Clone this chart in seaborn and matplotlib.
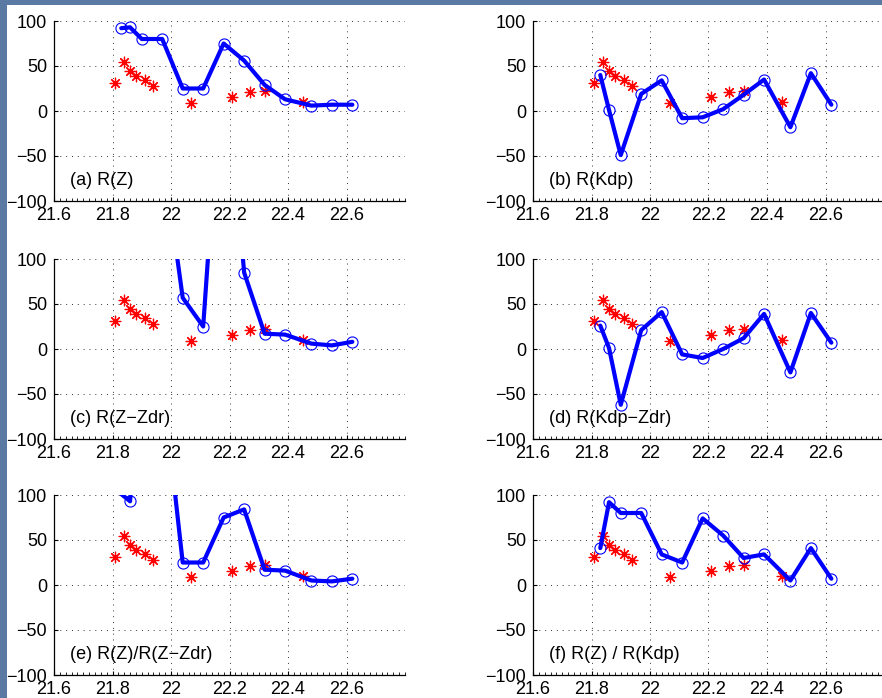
import numpy as np
import matplotlib
matplotlib.use('Agg')
import matplotlib.pyplot as plt
from matplotlib.patches import Rectangle
from matplotlib.ticker import MultipleLocator
import seaborn as sns

# times (hour) of the gauge (blue) estimates
blueTime = [21.83, 21.86, 21.90, 21.97, 22.04, 22.11, 22.18, 22.25, 22.32, 22.39, 22.48, 22.55, 22.62]

# red stars, the same in every panel
redTime = [21.81, 21.84, 21.86, 21.88, 21.91, 21.94, 22.07, 22.21, 22.27, 22.32, 22.45]
redRate = [31, 55, 45, 39, 35, 28, 9, 16, 21, 22, 10]

# blue series per panel (values above 100 run off the top of the axes)
rateZ = [92, 93, 80, 80, 25, 25, 75, 56, 29, 13, 6, 7, 7]
rateKdp = [40, 1, -49, 19, 34, -8, -7, 2, 18, 35, -18, 42, 7]
rateZZdr = [250, 260, 240, 223, 57, 25, 350, 85, 17, 16, 6, 4, 8]
rateKdpZdr = [26, 1, -62, 21, 41, -6, -10, 0, 12, 39, -26, 40, 7]
rateZoverZZdr = [101, 93, 260, 230, 25, 25, 75, 84, 17, 16, 5, 4, 7]
rateZoverKdp = [41, 92, 80, 80, 34, 25, 74, 55, 30, 34, 5, 41, 7]

panelLabels = ['(a) R(Z)', '(b) R(Kdp)', '(c) R(Z\u2212Zdr)',
               '(d) R(Kdp\u2212Zdr)', '(e) R(Z)/R(Z\u2212Zdr)', '(f) R(Z) / R(Kdp)']
panelSeries = [rateZ, rateKdp, rateZZdr, rateKdpZdr, rateZoverZZdr, rateZoverKdp]

xTicks = [21.6, 21.8, 22.0, 22.2, 22.4, 22.6]
xTickLabels = ['21.6', '21.8', '22', '22.2', '22.4', '22.6']
yTicks = [-100, -50, 0, 50, 100]

sns.set_theme(style='white')
plt.rcParams['font.family'] = ['Liberation Sans', 'DejaVu Sans']
plt.rcParams['axes.unicode_minus'] = True
plt.rcParams['text.color'] = 'black'

W, H = 882, 698
fig = plt.figure(figsize=(W / 100, H / 100), dpi=100)
fig.patch.set_facecolor('#5a7aa3')
fig.add_artist(Rectangle((7 / W, 0), 1, 1 - 5 / H, transform=fig.transFigure,
                         facecolor='white', edgecolor='none', zorder=0))

colLeft = [54 / W, 533 / W]
rowTop = [21, 259, 495]
axW = 351 / W
axH = 180 / H

for i, (series, label) in enumerate(zip(panelSeries, panelLabels)):
    row, col = divmod(i, 2)
    ax = fig.add_axes([colLeft[col], 1 - (rowTop[row] + 180) / H, axW, axH])
    ax.set_facecolor('white')

    sns.scatterplot(x=redTime, y=redRate, ax=ax, marker=(8, 2, 0), s=58,
                    color='red', edgecolor='red', linewidth=0.9, zorder=3)

    inside = [(-100 <= v <= 100) for v in series]
    sns.lineplot(x=blueTime, y=series, ax=ax, sort=False, estimator=None,
                 color='blue', lw=3, marker='o', markevery=inside,
                 mfc='none', mec='blue', ms=8, mew=0.8, zorder=4)

    ax.text(21.655, -77, label, fontsize=13, color='black',
            va='center', ha='left', zorder=5)

    ax.set_xlim(21.6, 22.8)
    ax.set_ylim(-100, 100)
    ax.set_xticks(xTicks)
    ax.set_xticklabels(xTickLabels)
    ax.set_yticks(yTicks)
    ax.xaxis.set_minor_locator(MultipleLocator(0.02))
    ax.tick_params(which='both', direction='in', colors='black', labelsize=13,
                   bottom=True, left=True)
    ax.tick_params(which='major', length=3, width=0.8)
    ax.tick_params(which='minor', length=2, width=0.6)
    ax.tick_params(axis='y', pad=5)
    ax.tick_params(axis='x', pad=4)
    ax.grid(True, which='major', color='#333333', lw=0.7, ls=(0, (1, 5)))
    ax.set_axisbelow(True)
    for side in ['top', 'right']:
        ax.spines[side].set_visible(False)
    for side in ['left', 'bottom']:
        ax.spines[side].set_color('black')
        ax.spines[side].set_linewidth(0.9)
    ax.set_xlabel('')
    ax.set_ylabel('')

fig.savefig('out.png', dpi=100, facecolor=fig.get_facecolor())
